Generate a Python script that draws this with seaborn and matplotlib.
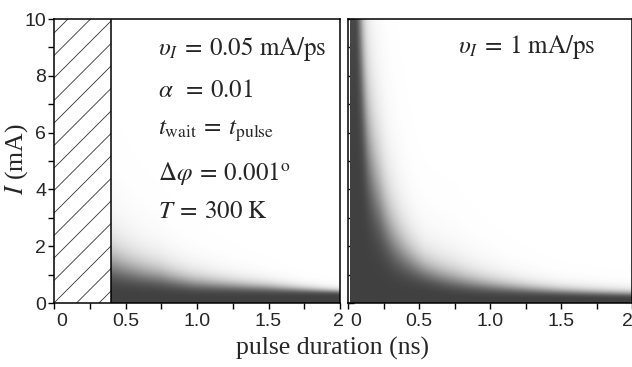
import numpy as np
import pandas as pd
import seaborn as sns
import matplotlib
matplotlib.use("Agg")
import matplotlib.pyplot as plt
from matplotlib.colors import LinearSegmentedColormap
from matplotlib.transforms import ScaledTranslation

# ---------------- values ----------------
# switching boundary (50 % grey level) I50 vs pulse duration, and the
# width of the grey transition ln(I_white / I_dark)
left_t = np.array([0.4, 0.75, 1.0, 1.5, 2.0])
left_i50 = np.array([1.5, 1.0, 0.74, 0.56, 0.42])
left_spread = np.array([1.0, 0.93, 0.89, 0.69, 0.47])

right_t = np.array([0.05, 0.096, 0.14, 0.225, 0.33, 0.54, 0.75, 1.0, 1.5, 2.0])
right_i50 = np.array([20.0, 9.5, 6.0, 3.8, 2.3, 1.25, 0.9, 0.66, 0.44, 0.35])
right_spread = np.array([0.82, 0.82, 0.9, 0.95, 1.0, 0.9, 1.0, 0.96, 0.79, 0.76])

left_t_start = 0.4      # hatched (excluded) region 0 .. 0.4 ns
right_t_start = 0.012
t_max = 2.0
i_max = 10.0

x_ticks = [0, 0.5, 1.0, 1.5, 2]
x_ticklabels = ["0", "0.5", "1.0", "1.5", "2"]
y_ticks = [0, 2, 4, 6, 8, 10]
y_ticklabels = ["0", "2", "4", "6", "8", "10"]

left_texts = [r"$\upsilon_I\:=\:0.05\ \mathrm{mA/ps}$",
              r"$\alpha\ \:=\:0.01$",
              r"$t_{\mathrm{wait}}\:=\:t_{\mathrm{pulse}}$",
              r"$\Delta\varphi\:=\:0.001^{\mathrm{o}}$",
              r"$T\:=\:300\ \mathrm{K}$"]
right_text = r"$\upsilon_I\:=\:1\ \mathrm{mA/ps}$"

# ---------------- style ----------------
sns.set_style("ticks")
plt.rcParams["font.family"] = ["Liberation Sans", "DejaVu Sans"]
plt.rcParams["mathtext.fontset"] = "stix"
plt.rcParams["axes.linewidth"] = 1.1

W, H = 632, 367
fig = plt.figure(figsize=(W / 100, H / 100), dpi=100)
ax_l = fig.add_axes([54 / W, 1 - 303 / H, 286 / W, 284 / H])
ax_r = fig.add_axes([348 / W, 1 - 303 / H, 284 / W, 284 / H])

dark = "#404040"
cmap = LinearSegmentedColormap.from_list("wg", ["white", dark])


def density_frame(t0, t_pts, i50_pts, spread_pts, nx, ny):
    dt = (t_max - t0) / nx
    di = i_max / ny
    tc = t0 + dt * (np.arange(nx) + 0.5)
    ic = di * (np.arange(ny) + 0.5)
    T, I = np.meshgrid(tc, ic, indexing="ij")
    lt = np.log(t_pts)
    i50 = np.exp(np.interp(np.log(T), lt, np.log(i50_pts)))
    w = np.interp(np.log(T), lt, spread_pts) / 3.6
    d = 1.0 / (1.0 + np.exp((np.log(I) - np.log(i50)) / w))
    return pd.DataFrame({"t": T.ravel(), "I": I.ravel(), "d": d.ravel()})


nyb = 284
nx_l = 228
nx_r = 282
df_l = density_frame(left_t_start, left_t, left_i50, left_spread, nx_l, nyb)
df_r = density_frame(right_t_start, right_t, right_i50, right_spread, nx_r, nyb)

for ax, df, t0, nx in [(ax_l, df_l, left_t_start, nx_l), (ax_r, df_r, right_t_start, nx_r)]:
    sns.histplot(data=df, x="t", y="I", weights="d", bins=(nx, nyb),
                 binrange=((t0, t_max), (0, i_max)), cmap=cmap,
                 vmin=0, vmax=1, cbar=False, ax=ax)
    ax.set_xlim(0, t_max)
    ax.set_ylim(0, i_max)
    ax.set_xlabel("")
    ax.set_ylabel("")
    for s in ax.spines.values():
        s.set_color("black")
        s.set_linewidth(1.1)
    ax.set_xticks(x_ticks)
    ax.set_xticklabels(x_ticklabels)
    ax.set_xticks(np.arange(0, t_max + 0.01, 0.25), minor=True)
    ax.set_yticks(y_ticks)
    ax.set_yticks(np.arange(0, i_max + 0.1, 1), minor=True)
    ax.grid(False)

tick_fs = 14
# left panel ticks
ax_l.tick_params(axis="x", which="both", direction="out", length=4, width=1,
                 labelsize=tick_fs, pad=3, color="black")
ax_l.tick_params(axis="y", which="both", direction="out", length=4, width=1,
                 labelsize=tick_fs, pad=1.5, color="black")
ax_l.set_yticklabels(y_ticklabels)
# right panel ticks
ax_r.tick_params(axis="x", which="both", direction="out", length=4, width=1,
                 labelsize=tick_fs, pad=3, color="black")
ax_r.tick_params(axis="y", which="both", direction="in", length=4, width=1,
                 labelleft=False, color="black")

# shift the "0" labels a little right, outermost "2" labels inward
for ax in (ax_l, ax_r):
    lab0 = ax.get_xticklabels()[0]
    lab0.set_transform(lab0.get_transform() + ScaledTranslation(8 / 100, 0, fig.dpi_scale_trans))
    lab2 = ax.get_xticklabels()[-1]
    shift = -2 if ax is ax_l else -5
    lab2.set_transform(lab2.get_transform() + ScaledTranslation(shift / 100, 0, fig.dpi_scale_trans))

# hatched excluded region in left panel
rect = ax_l.axvspan(0, left_t_start, facecolor="white", edgecolor="none", zorder=1)
px_per_t = 286 / t_max
px_per_i = 284 / i_max
slope = px_per_t / px_per_i
spacing = 22.5 / px_per_i
for k in range(-6, 16):
    ln, = ax_l.plot([0, left_t_start], [k * spacing, k * spacing + slope * left_t_start],
                    color="#333333", lw=0.6, zorder=2)
    ln.set_clip_path(rect)
ax_l.axvline(left_t_start, color="black", lw=1.1, zorder=3)
ax_l.set_xlim(0, t_max)
ax_l.set_ylim(0, i_max)

# annotations
serif = ["Liberation Serif", "DejaVu Serif"]
ys = [8.73, 7.25, 5.92, 4.33, 2.99]
for txt, yv in zip(left_texts, ys):
    ax_l.text(0.73, yv, txt, fontsize=18, family=serif, va="baseline", ha="left", zorder=4)
ax_r.text(0.775, 8.8, right_text, fontsize=18, family=serif, va="baseline", ha="left", zorder=4)

fig.text(333 / W, 1 - 355 / H, "pulse duration (ns)", fontsize=18.5, family=serif,
         ha="center", va="baseline")
fig.text(17 / W, 1 - 159 / H, r"$I$ (mA)", fontsize=18.5, family=serif,
         ha="center", va="center", rotation=90)

fig.savefig("out.png", dpi=100)
